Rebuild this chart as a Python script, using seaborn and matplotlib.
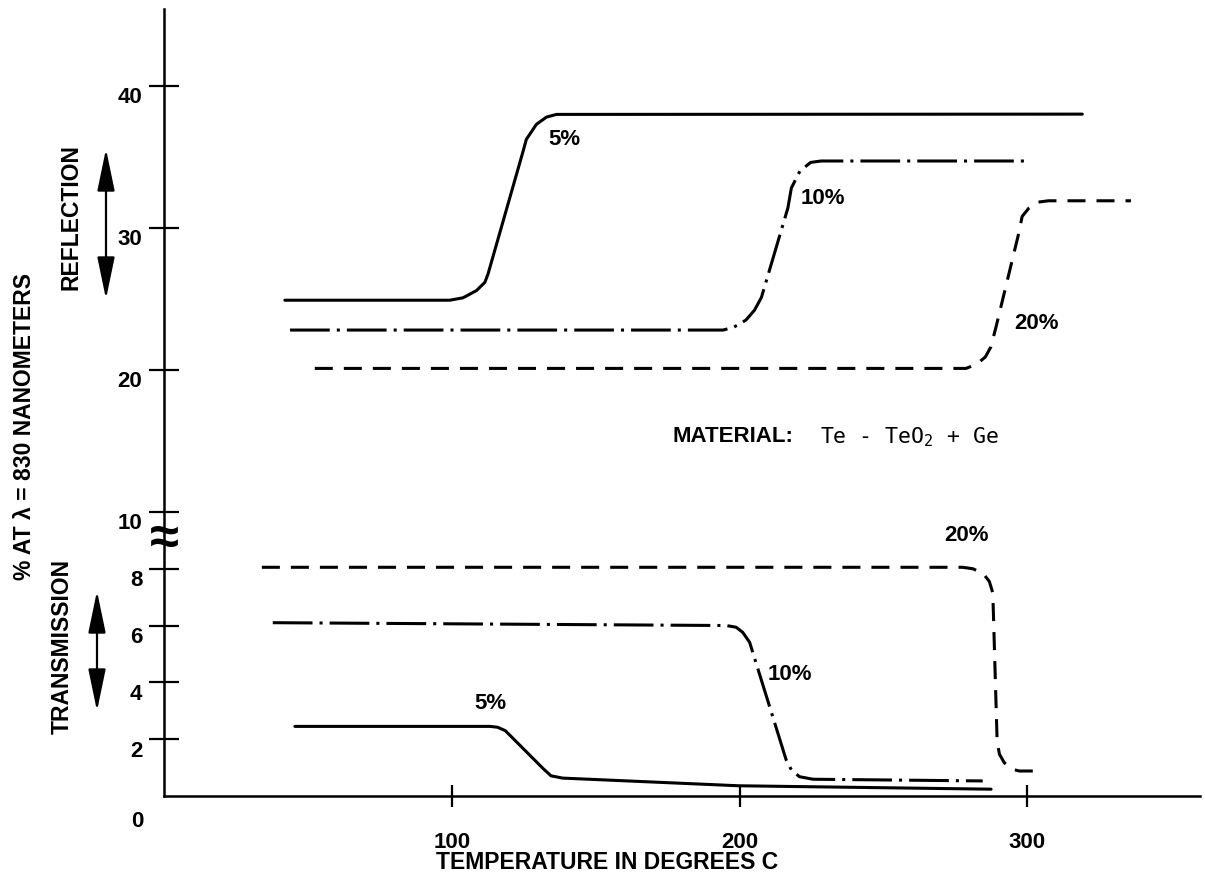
import numpy as np
import pandas as pd
import matplotlib
matplotlib.use("Agg")
import matplotlib.pyplot as plt
import matplotlib.transforms as mtransforms
import seaborn as sns

# ---- curve data: temperature (deg C) vs percent at 830 nm ----
# Reflection, upper (compressed) part of the scale
refl_5_temp = [42.0, 99.3, 103.9, 108.6, 111.5, 112.6, 124.8, 125.9, 129.4, 132.9, 136.4, 319.1]
refl_5_pct = [24.9, 24.9, 25.07, 25.58, 26.16, 26.75, 35.4, 36.22, 37.28, 37.79, 37.98, 38.0]

refl_10_temp = [43.8, 194.3, 198.0, 202.2, 205.2, 207.6, 216.8, 218.0, 221.0, 224.7, 228.3, 300.0]
refl_10_pct = [22.8, 22.8, 23.0, 23.5, 24.2, 25.1, 31.4, 32.8, 34.0, 34.6, 34.7, 34.7]

refl_20_temp = [52.4, 278.7, 282.4, 285.4, 287.3, 289.1, 297.0, 298.2, 300.6, 303.6, 307.3, 336.0]
refl_20_pct = [20.1, 20.1, 20.4, 20.9, 21.6, 23.0, 29.6, 30.8, 31.4, 31.8, 31.9, 31.9]

# Transmission, lower part of the scale
trans_5_temp = [45.5, 113.3, 115.9, 118.6, 131.9, 134.5, 138.5, 199.7, 287.4]
trans_5_pct = [2.45, 2.45, 2.42, 2.3, 0.95, 0.71, 0.63, 0.36, 0.24]

trans_10_temp = [37.8, 195.4, 198.8, 201.1, 203.5, 216.2, 218.0, 220.8, 225.5, 284.5]
trans_10_pct = [6.1, 6.0, 5.94, 5.76, 5.41, 1.27, 0.92, 0.68, 0.59, 0.53]

trans_20_temp = [34.0, 277.5, 281.0, 284.5, 286.8, 288.0, 289.5, 290.3, 292.0, 294.9, 297.2, 303.0]
trans_20_pct = [8.05, 8.05, 8.0, 7.85, 7.55, 7.15, 1.94, 1.47, 1.17, 0.94, 0.88, 0.88]

# curve labels: (text, temperature, percent)
curve_labels = [
    ("5%", 139.2, 36.25), ("10%", 228.8, 32.1), ("20%", 303.1, 23.3),
    ("5%", 113.5, 3.3), ("10%", 217.4, 4.3), ("20%", 278.8, 9.2),
]

y_ticks = [2, 4, 6, 8, 10, 20, 30, 40]
x_ticks = [100, 200, 300]

# ---- styling ----
sns.set_theme(style="white")
plt.rcParams["font.family"] = ["Liberation Sans", "DejaVu Sans"]
plt.rcParams["font.weight"] = "bold"
plt.rcParams["axes.edgecolor"] = "black"
plt.rcParams["text.color"] = "black"

W, H = 1205, 879
fig = plt.figure(figsize=(W / 100, H / 100), dpi=100)
ax = fig.add_axes([164 / W, (H - 797) / H, (1200 - 164) / W, (797 - 10) / H])
ax.set_facecolor("white")

# broken ordinate: full scale up to 10 %, half scale above
BREAK = 10.0


def _fwd(y):
    y = np.asarray(y, dtype=float)
    return np.where(y <= BREAK, y, BREAK + (y - BREAK) / 2.0)


def _inv(u):
    u = np.asarray(u, dtype=float)
    return np.where(u <= BREAK, u, BREAK + (u - BREAK) * 2.0)


ax.set_yscale("function", functions=(_fwd, _inv))

LW = 2.2
solid = "-"
dashdot = (0, (13, 2.3, 1.0, 2.3))
dashed = (0, (5.9, 3.6))

series = [
    (refl_5_temp, refl_5_pct, solid),
    (refl_10_temp, refl_10_pct, dashdot),
    (refl_20_temp, refl_20_pct, dashed),
    (trans_5_temp, trans_5_pct, solid),
    (trans_10_temp, trans_10_pct, dashdot),
    (trans_20_temp, trans_20_pct, dashed),
]
for temps, pcts, ls in series:
    df = pd.DataFrame({"temp": temps, "pct": pcts})
    sns.lineplot(data=df, x="temp", y="pct", ax=ax, color="black", lw=LW,
                 linestyle=ls, sort=False, estimator=None)

for text, t, p in curve_labels:
    ax.text(t, p, text, ha="center", va="center", fontsize=16, fontweight="bold")

ax.set_xlim(0, 360)
ax.set_ylim(0, 45.4)

for side in ("top", "right"):
    ax.spines[side].set_visible(False)
for side in ("left", "bottom"):
    ax.spines[side].set_linewidth(1.8)
    ax.spines[side].set_color("black")

ax.set_yticks(y_ticks)
ax.set_yticklabels([str(v) for v in y_ticks])
ax.set_xticks(x_ticks)
ax.set_xticklabels([str(v) for v in x_ticks])
ax.tick_params(axis="y", direction="inout", length=21, width=1.6, pad=5,
               labelsize=16, colors="black", left=True)
ax.tick_params(axis="x", direction="inout", length=16, width=1.6, pad=17,
               labelsize=16, colors="black", bottom=True)
for lab in ax.get_yticklabels():
    lab.set_fontweight("bold")
    lab.set_transform(lab.get_transform() +
                      mtransforms.ScaledTranslation(0, -6 / 72, fig.dpi_scale_trans))
for lab in ax.get_xticklabels():
    lab.set_fontweight("bold")
ax.set_xlabel("")
ax.set_ylabel("")

# origin label and axis-break mark
ax.annotate("0", xy=(0, 0), xytext=(-19, -18), textcoords="offset points",
            ha="center", va="center", fontsize=16, fontweight="bold",
            annotation_clip=False)
ax.text(0, 9.05, "\u2248", ha="center", va="center", fontsize=38,
        fontweight="bold", clip_on=False)

# axis titles
fig.text(607 / W, 1 - 863 / H, "TEMPERATURE IN DEGREES C", ha="center", va="center",
         fontsize=16.5, fontweight="bold")
fig.text(25 / W, 1 - 426 / H, "% AT \u03bb = 830 NANOMETERS", rotation=90,
         ha="center", va="center", fontsize=16.5, fontweight="bold")
fig.text(71 / W, 1 - 217 / H, "REFLECTION", rotation=90, ha="center", va="center",
         fontsize=16.5, fontweight="bold")
fig.text(62 / W, 1 - 647 / H, "TRANSMISSION", rotation=90, ha="center", va="center",
         fontsize=16.5, fontweight="bold")

# double-headed range arrows
arrow_kw = dict(arrowstyle="<|-|>,head_length=1.3,head_width=0.27", lw=1.6,
                color="black", mutation_scale=20, shrinkA=0, shrinkB=0)
ax.annotate("", xy=(106, H - 150), xytext=(106, H - 300), xycoords="figure pixels",
            textcoords="figure pixels", arrowprops=arrow_kw, annotation_clip=False)
ax.annotate("", xy=(97, H - 592), xytext=(97, H - 712), xycoords="figure pixels",
            textcoords="figure pixels", arrowprops=arrow_kw, annotation_clip=False)

# material note
fig.text(672 / W, 1 - 437 / H, "MATERIAL:", ha="left", va="center",
         fontsize=16, fontweight="bold")
fig.text(820 / W, 1 - 437 / H, "Te - TeO$_\\mathregular{2}$ + Ge", ha="left", va="center",
         fontsize=15.5, fontweight="normal", family=["DejaVu Sans Mono", "DejaVu Sans"])

fig.savefig("out.png", dpi=100, facecolor="white")
